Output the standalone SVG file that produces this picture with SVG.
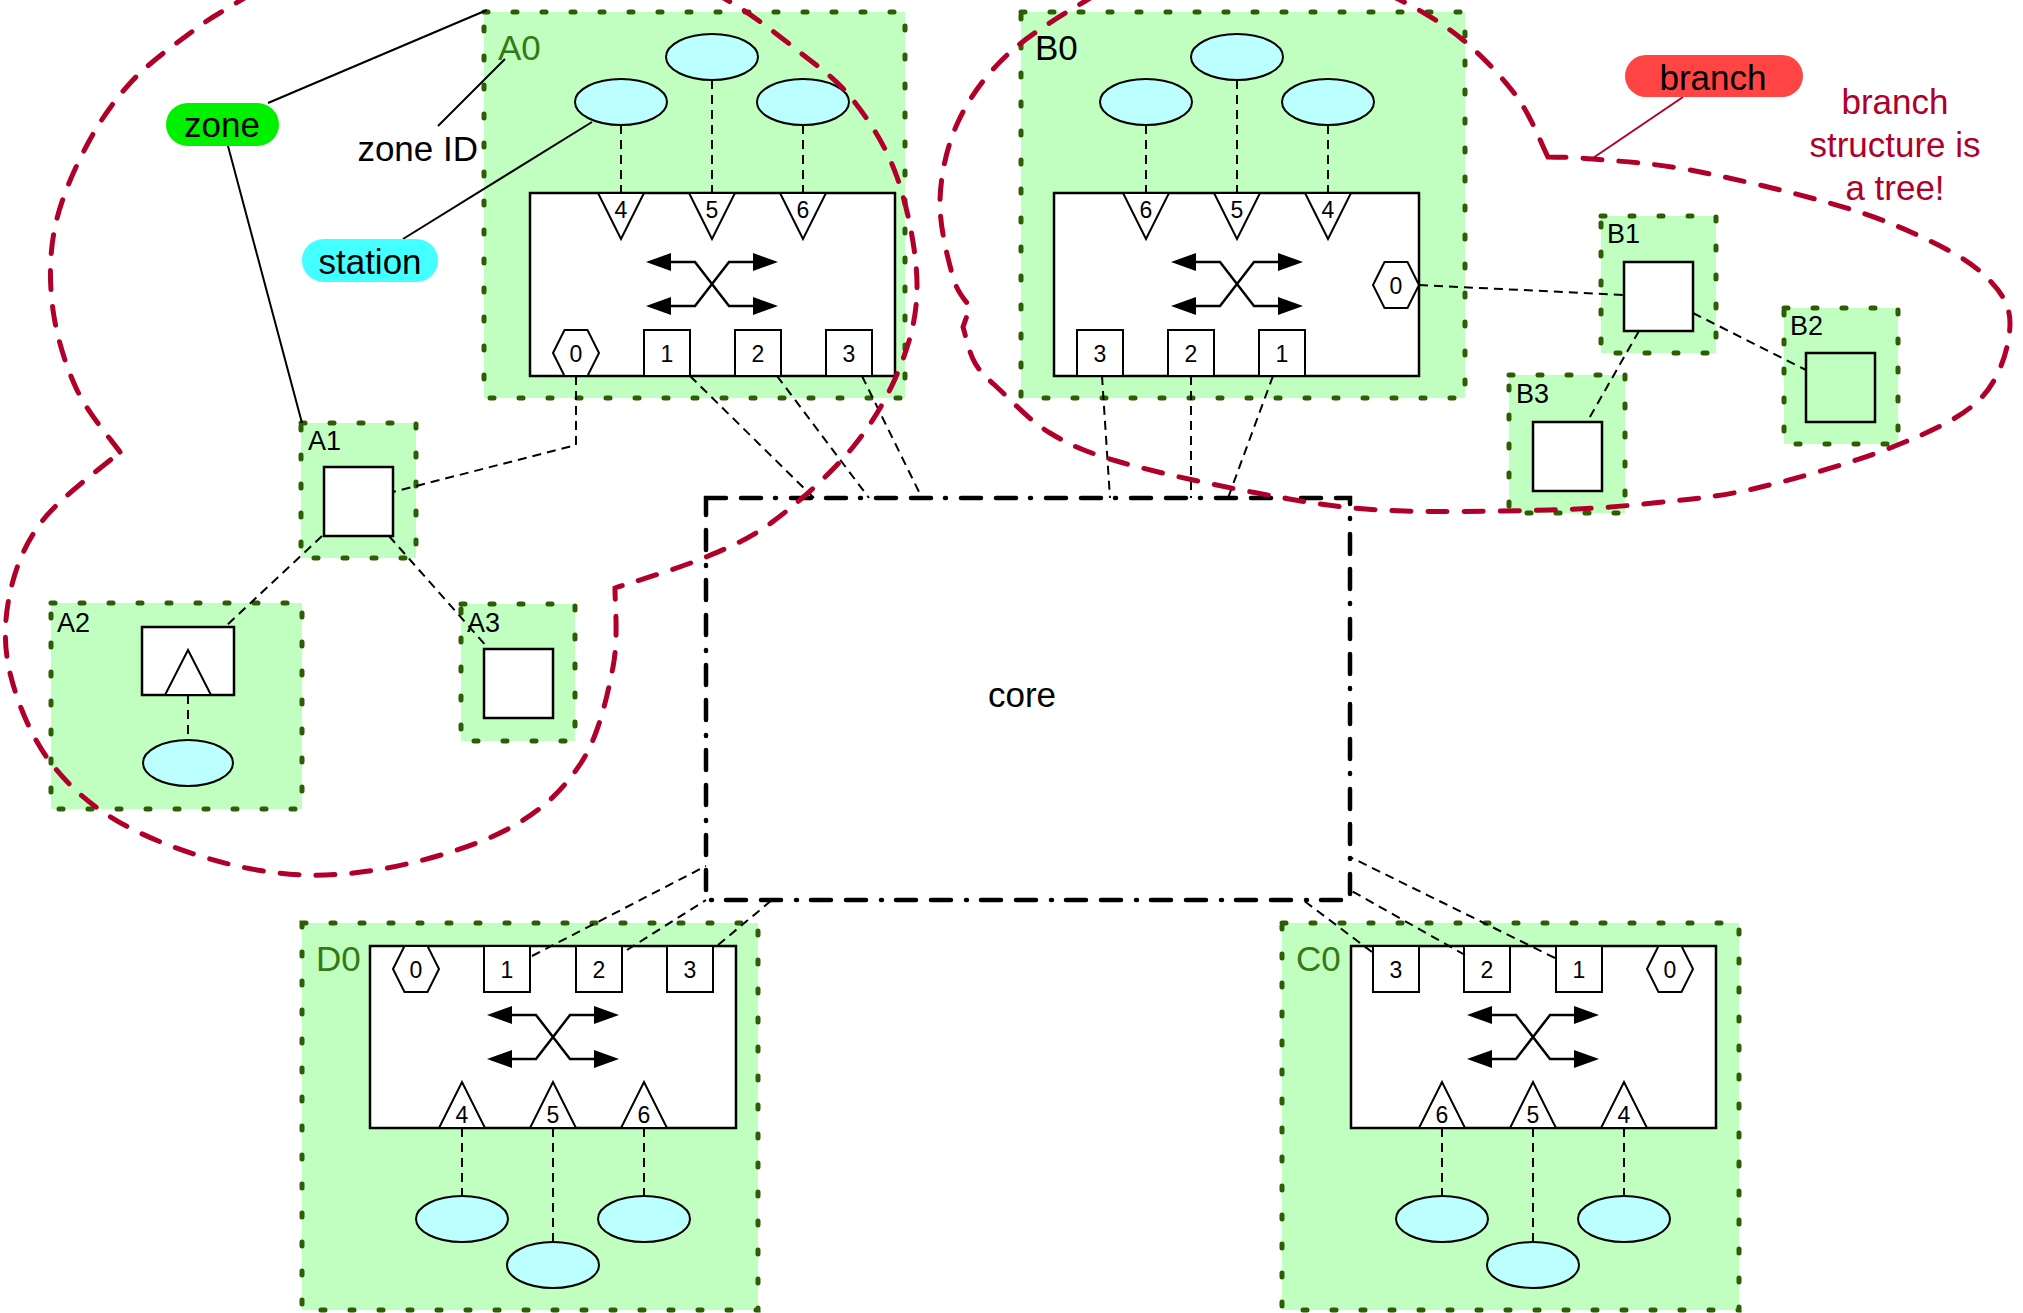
<svg xmlns="http://www.w3.org/2000/svg" width="2023" height="1313" viewBox="0 0 2023 1313">
<style>
text{font-family:"Liberation Sans",Arial,sans-serif;}
.zone{fill:#c0ffc0;stroke:#2b5e05;stroke-width:5;stroke-dasharray:4 25;stroke-linecap:round}
.zl{font-size:35px;fill:#347a14}
.zlb{font-size:35px;fill:#000}
.zs{font-size:27px;fill:#000}
.sw{fill:#fff;stroke:#000;stroke-width:2.5}
.port{fill:#fff;stroke:#000;stroke-width:2}
.pl{font-size:23px;text-anchor:middle;fill:#000}
.st{fill:#bbffff;stroke:#000;stroke-width:2}
.box{fill:#fff;stroke:#000;stroke-width:2.5}
.cn{fill:none;stroke:#000;stroke-width:2;stroke-dasharray:9 6}
.br{fill:none;stroke:#b0002a;stroke-width:5;stroke-dasharray:19 17;stroke-linecap:round}
.ann{stroke:#000;stroke-width:2;fill:none}
.big{font-size:35px;text-anchor:middle;fill:#000}
.core{fill:none;stroke:#000;stroke-width:4.5;stroke-dasharray:20 15 20 14 1 15;stroke-linecap:round}
</style>
<defs>
<g id="xa">
<path d="M-42,-22H-17L17,22H42M-42,22H-17L17,-22H42" fill="none" stroke="#000" stroke-width="2.5"/>
<polygon points="-66,-22 -41,-31 -41,-13" fill="#000"/>
<polygon points="66,-22 41,-31 41,-13" fill="#000"/>
<polygon points="-66,22 -41,13 -41,31" fill="#000"/>
<polygon points="66,22 41,13 41,31" fill="#000"/>
</g>
</defs>

<g id="A0">
<rect class="zone" x="484" y="12" width="421" height="386"/>
<text class="zl" x="498" y="60">A0</text>
<ellipse class="st" cx="621" cy="102" rx="46" ry="23"/>
<ellipse class="st" cx="712" cy="57" rx="46" ry="23"/>
<ellipse class="st" cx="803" cy="102" rx="46" ry="23"/>
<rect class="sw" x="530" y="193" width="365" height="183"/>
<polygon class="port" points="598,193 644,193 621,239"/><text class="pl" x="621" y="218">4</text>
<polygon class="port" points="689,193 735,193 712,239"/><text class="pl" x="712" y="218">5</text>
<polygon class="port" points="780,193 826,193 803,239"/><text class="pl" x="803" y="218">6</text>
<use href="#xa" x="712" y="284"/>
<polygon class="port" points="553,353 564.5,330 587.5,330 599,353 587.5,376 564.5,376"/><text class="pl" x="576" y="362">0</text>
<rect class="port" x="644" y="330" width="46" height="46"/><text class="pl" x="667" y="362">1</text>
<rect class="port" x="735" y="330" width="46" height="46"/><text class="pl" x="758" y="362">2</text>
<rect class="port" x="826" y="330" width="46" height="46"/><text class="pl" x="849" y="362">3</text>
</g>

<g id="B0">
<rect class="zone" x="1021" y="12" width="444" height="386"/>
<text class="zlb" x="1035" y="60">B0</text>
<ellipse class="st" cx="1146" cy="102" rx="46" ry="23"/>
<ellipse class="st" cx="1237" cy="57" rx="46" ry="23"/>
<ellipse class="st" cx="1328" cy="102" rx="46" ry="23"/>
<rect class="sw" x="1054" y="193" width="365" height="183"/>
<polygon class="port" points="1123,193 1169,193 1146,239"/><text class="pl" x="1146" y="218">6</text>
<polygon class="port" points="1214,193 1260,193 1237,239"/><text class="pl" x="1237" y="218">5</text>
<polygon class="port" points="1305,193 1351,193 1328,239"/><text class="pl" x="1328" y="218">4</text>
<use href="#xa" x="1237" y="284"/>
<polygon class="port" points="1373,285 1384.5,262 1407.5,262 1419,285 1407.5,308 1384.5,308"/><text class="pl" x="1396" y="294">0</text>
<rect class="port" x="1077" y="330" width="46" height="46"/><text class="pl" x="1100" y="362">3</text>
<rect class="port" x="1168" y="330" width="46" height="46"/><text class="pl" x="1191" y="362">2</text>
<rect class="port" x="1259" y="330" width="46" height="46"/><text class="pl" x="1282" y="362">1</text>
</g>

<g id="D0">
<rect class="zone" x="302" y="923" width="456" height="387"/>
<text class="zl" x="316" y="971">D0</text>
<rect class="sw" x="370" y="946" width="366" height="182"/>
<polygon class="port" points="393,969 404.5,946 427.5,946 439,969 427.5,992 404.5,992"/><text class="pl" x="416" y="978">0</text>
<rect class="port" x="484" y="946" width="46" height="46"/><text class="pl" x="507" y="978">1</text>
<rect class="port" x="576" y="946" width="46" height="46"/><text class="pl" x="599" y="978">2</text>
<rect class="port" x="667" y="946" width="46" height="46"/><text class="pl" x="690" y="978">3</text>
<use href="#xa" x="553" y="1037"/>
<polygon class="port" points="439,1128 485,1128 462,1082"/><text class="pl" x="462" y="1123">4</text>
<polygon class="port" points="530,1128 576,1128 553,1082"/><text class="pl" x="553" y="1123">5</text>
<polygon class="port" points="621,1128 667,1128 644,1082"/><text class="pl" x="644" y="1123">6</text>
<ellipse class="st" cx="462" cy="1219" rx="46" ry="23"/>
<ellipse class="st" cx="644" cy="1219" rx="46" ry="23"/>
<ellipse class="st" cx="553" cy="1265" rx="46" ry="23"/>
</g>

<g id="C0">
<rect class="zone" x="1282" y="923" width="457" height="387"/>
<text class="zl" x="1296" y="971">C0</text>
<rect class="sw" x="1351" y="946" width="365" height="182"/>
<rect class="port" x="1373" y="946" width="46" height="46"/><text class="pl" x="1396" y="978">3</text>
<rect class="port" x="1464" y="946" width="46" height="46"/><text class="pl" x="1487" y="978">2</text>
<rect class="port" x="1556" y="946" width="46" height="46"/><text class="pl" x="1579" y="978">1</text>
<polygon class="port" points="1647,969 1658.5,946 1681.5,946 1693,969 1681.5,992 1658.5,992"/><text class="pl" x="1670" y="978">0</text>
<use href="#xa" x="1533" y="1037"/>
<polygon class="port" points="1419,1128 1465,1128 1442,1082"/><text class="pl" x="1442" y="1123">6</text>
<polygon class="port" points="1510,1128 1556,1128 1533,1082"/><text class="pl" x="1533" y="1123">5</text>
<polygon class="port" points="1601,1128 1647,1128 1624,1082"/><text class="pl" x="1624" y="1123">4</text>
<ellipse class="st" cx="1442" cy="1219" rx="46" ry="23"/>
<ellipse class="st" cx="1624" cy="1219" rx="46" ry="23"/>
<ellipse class="st" cx="1533" cy="1265" rx="46" ry="23"/>
</g>

<g id="A1">
<rect class="zone" x="301" y="423" width="115" height="135"/>
<text class="zs" x="308" y="450">A1</text>
<rect class="box" x="324" y="467" width="69" height="69"/>
</g>
<g id="A2">
<rect class="zone" x="51" y="603" width="251" height="206"/>
<text class="zs" x="57" y="632">A2</text>
<rect class="box" x="142" y="627" width="92" height="68"/>
<polygon class="port" points="165,695 211,695 188,650"/>
<ellipse class="st" cx="188" cy="763" rx="45" ry="23"/>
</g>
<g id="A3">
<rect class="zone" x="461" y="604" width="114" height="137"/>
<text class="zs" x="467" y="632">A3</text>
<rect class="box" x="484" y="649" width="69" height="69"/>
</g>
<g id="B1">
<rect class="zone" x="1601" y="216" width="115" height="137"/>
<text class="zs" x="1607" y="243">B1</text>
<rect class="box" x="1624" y="262" width="69" height="69"/>
</g>
<g id="B2">
<rect class="zone" x="1784" y="308" width="114" height="136"/>
<text class="zs" x="1790" y="335">B2</text>
<rect x="1806" y="353" width="69" height="69" fill="none" stroke="#000" stroke-width="2.5"/>
</g>
<g id="B3">
<rect class="zone" x="1509" y="375" width="116" height="138"/>
<text class="zs" x="1516" y="403">B3</text>
<rect class="box" x="1533" y="422" width="69" height="69"/>
</g>

<g id="core">
<rect class="core" x="706" y="498" width="644" height="402"/>
<text class="big" x="1022" y="707">core</text>
</g>

<g id="connectors">
<path class="cn" d="M621,125V193M712,80V193M803,125V193"/>
<path class="cn" d="M1146,125V193M1237,80V193M1328,125V193"/>
<path class="cn" d="M462,1128V1196M553,1128V1242M644,1128V1196"/>
<path class="cn" d="M1442,1128V1196M1533,1128V1242M1624,1128V1196"/>
<path class="cn" d="M188,695V740"/>
<path class="cn" d="M576,376V445L393,492"/>
<path class="cn" d="M322,536L225,627"/>
<path class="cn" d="M389,536L488,648"/>
<path class="cn" d="M690,376L814,498"/>
<path class="cn" d="M777,376L869,498"/>
<path class="cn" d="M862,376L922,498"/>
<path class="cn" d="M1102,376L1110,498"/>
<path class="cn" d="M1191,376L1191,498"/>
<path class="cn" d="M1273,376L1228,498"/>
<path class="cn" d="M1419,285L1624,295"/>
<path class="cn" d="M1693,313L1806,370"/>
<path class="cn" d="M1639,331L1587,422"/>
<path class="cn" d="M532,956L706,866"/>
<path class="cn" d="M627,950L706,900"/>
<path class="cn" d="M718,945L772,900"/>
<path class="cn" d="M1372,952L1303,900"/>
<path class="cn" d="M1465,955L1350,890"/>
<path class="cn" d="M1555,958L1350,857"/>
</g>

<g id="branchA">
<path class="br" d="M120,452 C112.8,441.7 88.2,413.7 77,390 C65.8,366.3 56.7,337.2 53,310 C49.3,282.8 49.3,254.5 55,227 C60.7,199.5 74,169.5 87,145 C100,120.5 114.7,99.5 133,80 C151.3,60.5 180.3,40.5 197,28 C213.7,15.5 217.5,14.7 233,5 C403,-101 553,-98 727,0 C750,13 776,33.3 797,50 C818,66.7 836.3,78.8 853,100 C869.7,121.2 886.3,146.5 897,177 C907.7,207.5 916.5,251.3 917,283 C917.5,314.7 910.7,339.7 900,367 C889.3,394.3 873.8,421.5 853,447 C832.2,472.5 799.5,501.7 775,520 C750.5,538.3 732.7,545.7 706,557 C679.3,568.3 630.2,582.8 615,588 C614.7,601.2 618.7,637.8 613,667 C607.3,696.2 598.8,735.8 581,763 C563.2,790.2 540.2,812.2 506,830 C471.8,847.8 417.5,863.3 376,870 C334.5,876.7 298,877 257,870 C216,863 164.3,845.8 130,828 C95.7,810.2 71,788.8 51,763 C31,737.2 16.8,701.3 10,673 C3.2,644.7 4.5,618.5 10,593 C15.5,567.5 24.7,543.5 43,520 C61.3,496.5 107.2,463.3 120,452 Z"/>
</g>
<g id="branchB">
<path class="br" d="M1548,157 C1542.8,147 1531.2,116.5 1517,97 C1502.8,77.5 1482.5,56.2 1463,40 C1443.5,23.8 1420,10 1400,0 C1300,-49 1207,-71 1087,0 C1063.5,14 1028.5,34.7 1007,55 C985.5,75.3 969.2,97.8 958,122 C946.8,146.2 940.8,174.2 940,200 C939.2,225.8 948,259.2 953,277 C958,294.8 967.2,302 970,307 L963,327 C965,333 968.8,352.5 975,363 C981.2,373.5 987.5,378.3 1000,390 C1012.5,401.7 1030,421 1050,433 C1070,445 1085.5,452 1120,462 C1154.5,472 1213.7,485 1257,493 C1300.3,501 1331.3,507.2 1380,510 C1428.7,512.8 1503.5,511.2 1549,510 C1594.5,508.8 1618.3,506.7 1653,503 C1687.7,499.3 1716.7,497.5 1757,488 C1797.3,478.5 1857.5,461.2 1895,446 C1932.5,430.8 1962.8,417.5 1982,397 C2001.2,376.5 2010,343.7 2010,323 C2010,302.3 1998.2,288 1982,273 C1965.8,258 1939,244.8 1913,233 C1887,221.2 1863.2,212.5 1826,202 C1788.8,191.5 1728.8,177.2 1690,170 C1651.2,162.8 1616.7,161.2 1593,159 C1569.3,156.8 1555.5,157.3 1548,157 Z"/>
</g>

<g id="legend">
<path class="ann" d="M268,103L487,10M228,146L302,423M438,126L505,59M403,239L592,122"/>
<rect x="166" y="103" width="113" height="43" rx="21.5" fill="#00f000"/>
<text class="big" x="222" y="137">zone</text>
<rect x="302" y="239" width="136" height="43" rx="21.5" fill="#44ffff"/>
<text class="big" x="370" y="274">station</text>
<text x="478" y="161" font-size="35" text-anchor="end">zone ID</text>
<path d="M1683,97L1593,158" stroke="#b0002a" stroke-width="2" fill="none"/>
<rect x="1625" y="55" width="178" height="42" rx="21" fill="#ff4444"/>
<text class="big" x="1713" y="90">branch</text>
<text font-size="35" fill="#b0002a" text-anchor="middle"><tspan x="1895" y="114">branch</tspan><tspan x="1895" y="157">structure is</tspan><tspan x="1895" y="200">a tree!</tspan></text>
</g>
</svg>
